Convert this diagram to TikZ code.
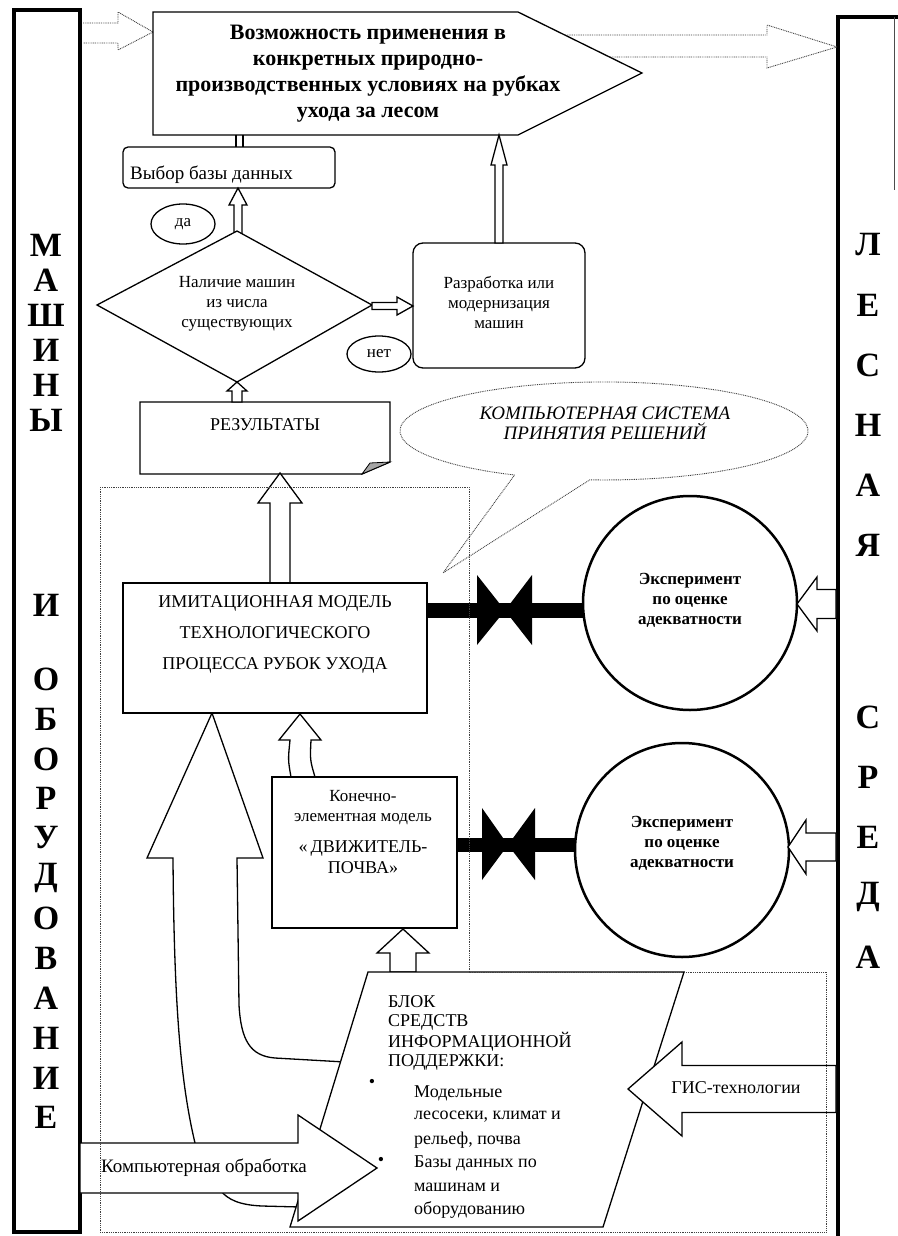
\documentclass[tikz,border=0pt]{standalone}
\usepackage{fontspec}
\setmainfont{Liberation Serif}
\usetikzlibrary{shapes.geometric}
\newcommand{\bup}[6]{\draw[blk] (#1,#2) -- (#1+#6,#3) -- (#1+#5,#3) -- (#1+#5,#4) -- (#1-#5,#4) -- (#1-#5,#3) -- (#1-#6,#3) -- cycle;}
\newcommand{\bhor}[6]{\draw[blk] (#2,#1) -- (#3,#1-#6) -- (#3,#1-#5) -- (#4,#1-#5) -- (#4,#1+#5) -- (#3,#1+#5) -- (#3,#1+#6) -- cycle;}
\begin{document}
\begin{tikzpicture}[x=1pt,y=-1pt,
 ln/.style={line width=1.3pt},
 blk/.style={draw,line width=1.3pt,fill=white,line join=miter},
 dots/.style={draw=black!75,line width=0.9pt,dash pattern=on 0.9pt off 0.9pt},
 col/.style={line width=4pt},
 lett/.style={font=\fontsize{34}{34}\selectfont\bfseries,inner sep=0pt},
 t17/.style={font=\fontsize{17}{20}\selectfont,align=center,inner sep=0pt},
 t18/.style={font=\fontsize{18}{21}\selectfont,inner sep=0pt},
 t19/.style={font=\fontsize{19}{22}\selectfont,inner sep=0pt},
 hx/.style={font=\fontsize{22}{26}\selectfont\bfseries,align=center,inner sep=0pt},
 ex/.style={font=\fontsize{17}{20}\selectfont\bfseries,align=center,inner sep=0pt},
 itx/.style={font=\fontsize{19}{20}\selectfont\itshape,align=center,inner sep=0pt},
 im/.style={font=\fontsize{18}{31}\selectfont,align=center,inner sep=0pt},
 oval/.style={ellipse,draw,line width=1.3pt,fill=white,inner sep=0pt,font=\fontsize{17}{20}\selectfont}
]
\useasboundingbox (0,0) rectangle (897,1236);
\fill[white] (0,0) rectangle (897,1236);

% side columns
\draw[col] (14,10) rectangle (80,1232);
\draw[col] (838,1250) -- (838,17) -- (905,17);
\draw[line width=1pt,black!70] (894,17) -- (894,190);
\foreach \l/\y in {М/245,А/280,Ш/315,И/350,Н/385,Ы/420,И/605,О/679,Б/719,О/759,Р/798,У/838,Д/878,О/918,В/958,А/998,Н/1038,И/1078,Е/1117}
  \node[lett] at (46,\y) {\l};
\foreach \l/\y in {Л/245,Е/305,С/365,Н/425,А/485,Я/545,С/717,Р/777,Е/837,Д/897,А/957}
  \node[lett] at (868,\y) {\l};

% top dotted arrows
\draw[dots] (83,23) -- (118,23) -- (118,12) -- (153,32) -- (118,50) -- (118,43) -- (83,43);
\draw[dots] (565,35) -- (767,35) -- (767,25) -- (837,47) -- (767,68) -- (767,57) -- (609,57);

% hexagon
\draw[ln] (153,12) -- (518,12) -- (642,73) -- (518,135) -- (153,135) -- cycle;
\node[hx] (goal) at (368,74) {Возможность применения в\\конкретных природно-\\производственных условиях на рубках\\ухода за лесом};

% Выбор базы данных
\draw[ln] (236,135) -- (236,147) (243,135) -- (243,147);
\draw[ln,rounded corners=5pt] (123,147) rectangle (335,188);
\node[t19,anchor=west] (vybor) at (130,175) {Выбор базы данных};

% diamond -> vybor
\bup{238}{188}{205}{236}{4}{9}
% diamond
\draw[blk] (237,231) -- (372,305) -- (237,382) -- (97,305) -- cycle;
\node[t17] (nal) at (237,304) {Наличие машин\\из числа\\существующих};
\node[oval,minimum width=64pt,minimum height=40pt] (da) at (183,224) {да};
\node[oval,minimum width=64pt,minimum height=36pt] (net) at (379,354) {нет};

% diamond -> Разработка
\bhor{306}{413}{397}{372}{3.5}{9}
\draw[ln,rounded corners=10pt] (413,243) rectangle (585,368);
\node[t17] (razr) at (499,302) {Разработка или\\модернизация\\машин};
\bup{499}{135}{165}{243}{4}{8}

% РЕЗУЛЬТАТЫ
\draw[blk] (140,402) -- (390,402) -- (390,462) -- (362,474) -- (140,474) -- cycle;
\filldraw[fill=black!35,line width=0.8pt] (362,474) -- (370,463) -- (390,462) -- cycle;
\node[t18] (res) at (265,425) {РЕЗУЛЬТАТЫ};
\bup{237}{382}{391}{402}{5}{10}

% speech bubble
\draw[dots] (514.6,475) arc[start angle=116,end angle=454,x radius=204,y radius=49] -- (443,573) -- cycle;
\node[itx] (ksp) at (605,423) {КОМПЬЮТЕРНАЯ СИСТЕМА\\ПРИНЯТИЯ РЕШЕНИЙ};

% ИМИТАЦИОННАЯ -> РЕЗУЛЬТАТЫ
\bup{280}{473}{503}{583}{10}{22}

% big curved arrow
\draw[blk] (212,713) -- (263,858) -- (237,858) -- (239,1005)
  .. controls (241,1040) and (250,1056) .. (275,1058) -- (345,1062) -- (300,1207) -- (262,1206)
  .. controls (240,1205) and (228,1200) .. (220,1190) -- (195,1143)
  .. controls (180,1080) and (174,1000) .. (173,858) -- (147,858) -- cycle;

% ИМИТАЦИОННАЯ box
\draw[blk] (123,583) rectangle (427,713);
\node[im] (imit) at (275,634) {ИМИТАЦИОННАЯ МОДЕЛЬ\\ТЕХНОЛОГИЧЕСКОГО\\ПРОЦЕССА РУБОК УХОДА};

% Конечно -> ИМИТАЦИОННАЯ
\draw[blk] (300,714) -- (321,740) -- (311,740) .. controls (310,760) .. (315,777) -- (291,777) .. controls (288,760) .. (290,740) -- (279,740) -- cycle;

% Конечно box
\draw[blk] (272,777) rectangle (457,928);
\node[t17] (kon1) at (363,808) {Конечно-\\элементная модель};
\node[font=\fontsize{18}{21}\selectfont,align=center,inner sep=0pt] (kon2) at (363,857) {«\,ДВИЖИТЕЛЬ-\\ПОЧВА»};

% БЛОК -> Конечно
\bup{403}{929}{953}{972}{13}{26}

% bowties and circles
\fill (427,603) rectangle (583,618);
\fill (477,575) -- (505,610.5) -- (477,645) -- cycle;
\fill (532,575) -- (505,610.5) -- (532,645) -- cycle;
\fill (457,838) rectangle (576,852);
\fill (482,808) -- (508,845) -- (482,880) -- cycle;
\fill (535,808) -- (508,845) -- (535,880) -- cycle;
\draw[line width=2.5pt,fill=white] (690,603) circle[radius=107pt];
\draw[line width=2.5pt,fill=white] (682,850) circle[radius=107pt];
\node[ex] (exp1) at (690,600) {Эксперимент\\по оценке\\адекватности};
\node[ex] (exp2) at (682,843) {Эксперимент\\по оценке\\адекватности};
\bhor{604}{797}{817}{836}{14.5}{27}
\bhor{847}{788}{806}{836}{14}{27}

% БЛОК parallelogram
\draw[blk] (368,972) -- (684,972) -- (603,1227) -- (290,1227) -- cycle;
\node[t18,anchor=west] at (388,1002) {БЛОК};
\node[t18,anchor=west] at (388,1022) {СРЕДСТВ};
\node[t18,anchor=west] at (388,1042) {ИНФОРМАЦИОННОЙ};
\node[t18,anchor=west] at (388,1062) {ПОДДЕРЖКИ:};
\node[t18] at (372,1083) {•};
\node[t18,anchor=west] at (414,1093) {Модельные};
\node[t18,anchor=west] at (414,1117) {лесосеки, климат и};
\node[t18,anchor=west] at (414,1140) {рельеф, почва};
\node[t18] at (381,1161) {•};
\node[t18,anchor=west] at (414,1163) {Базы данных по};
\node[t18,anchor=west] at (414,1187) {машинам и};
\node[t18,anchor=west] at (414,1210) {оборудованию};

% ГИС arrow
\bhor{1089}{628}{682}{836}{23.5}{47}
\node[t18] (gis) at (736,1088) {ГИС-технологии};

% Компьютерная обработка arrow
\bhor{1168}{377}{298}{80}{25}{53}
\node[t19,anchor=west] (komp) at (101,1168) {Компьютерная обработка};

% dotted frame
\draw[dots] (100,487) -- (469,487) -- (469,972) -- (826,972) -- (826,1232) -- (100,1232) -- cycle;
\end{tikzpicture}
\end{document}
